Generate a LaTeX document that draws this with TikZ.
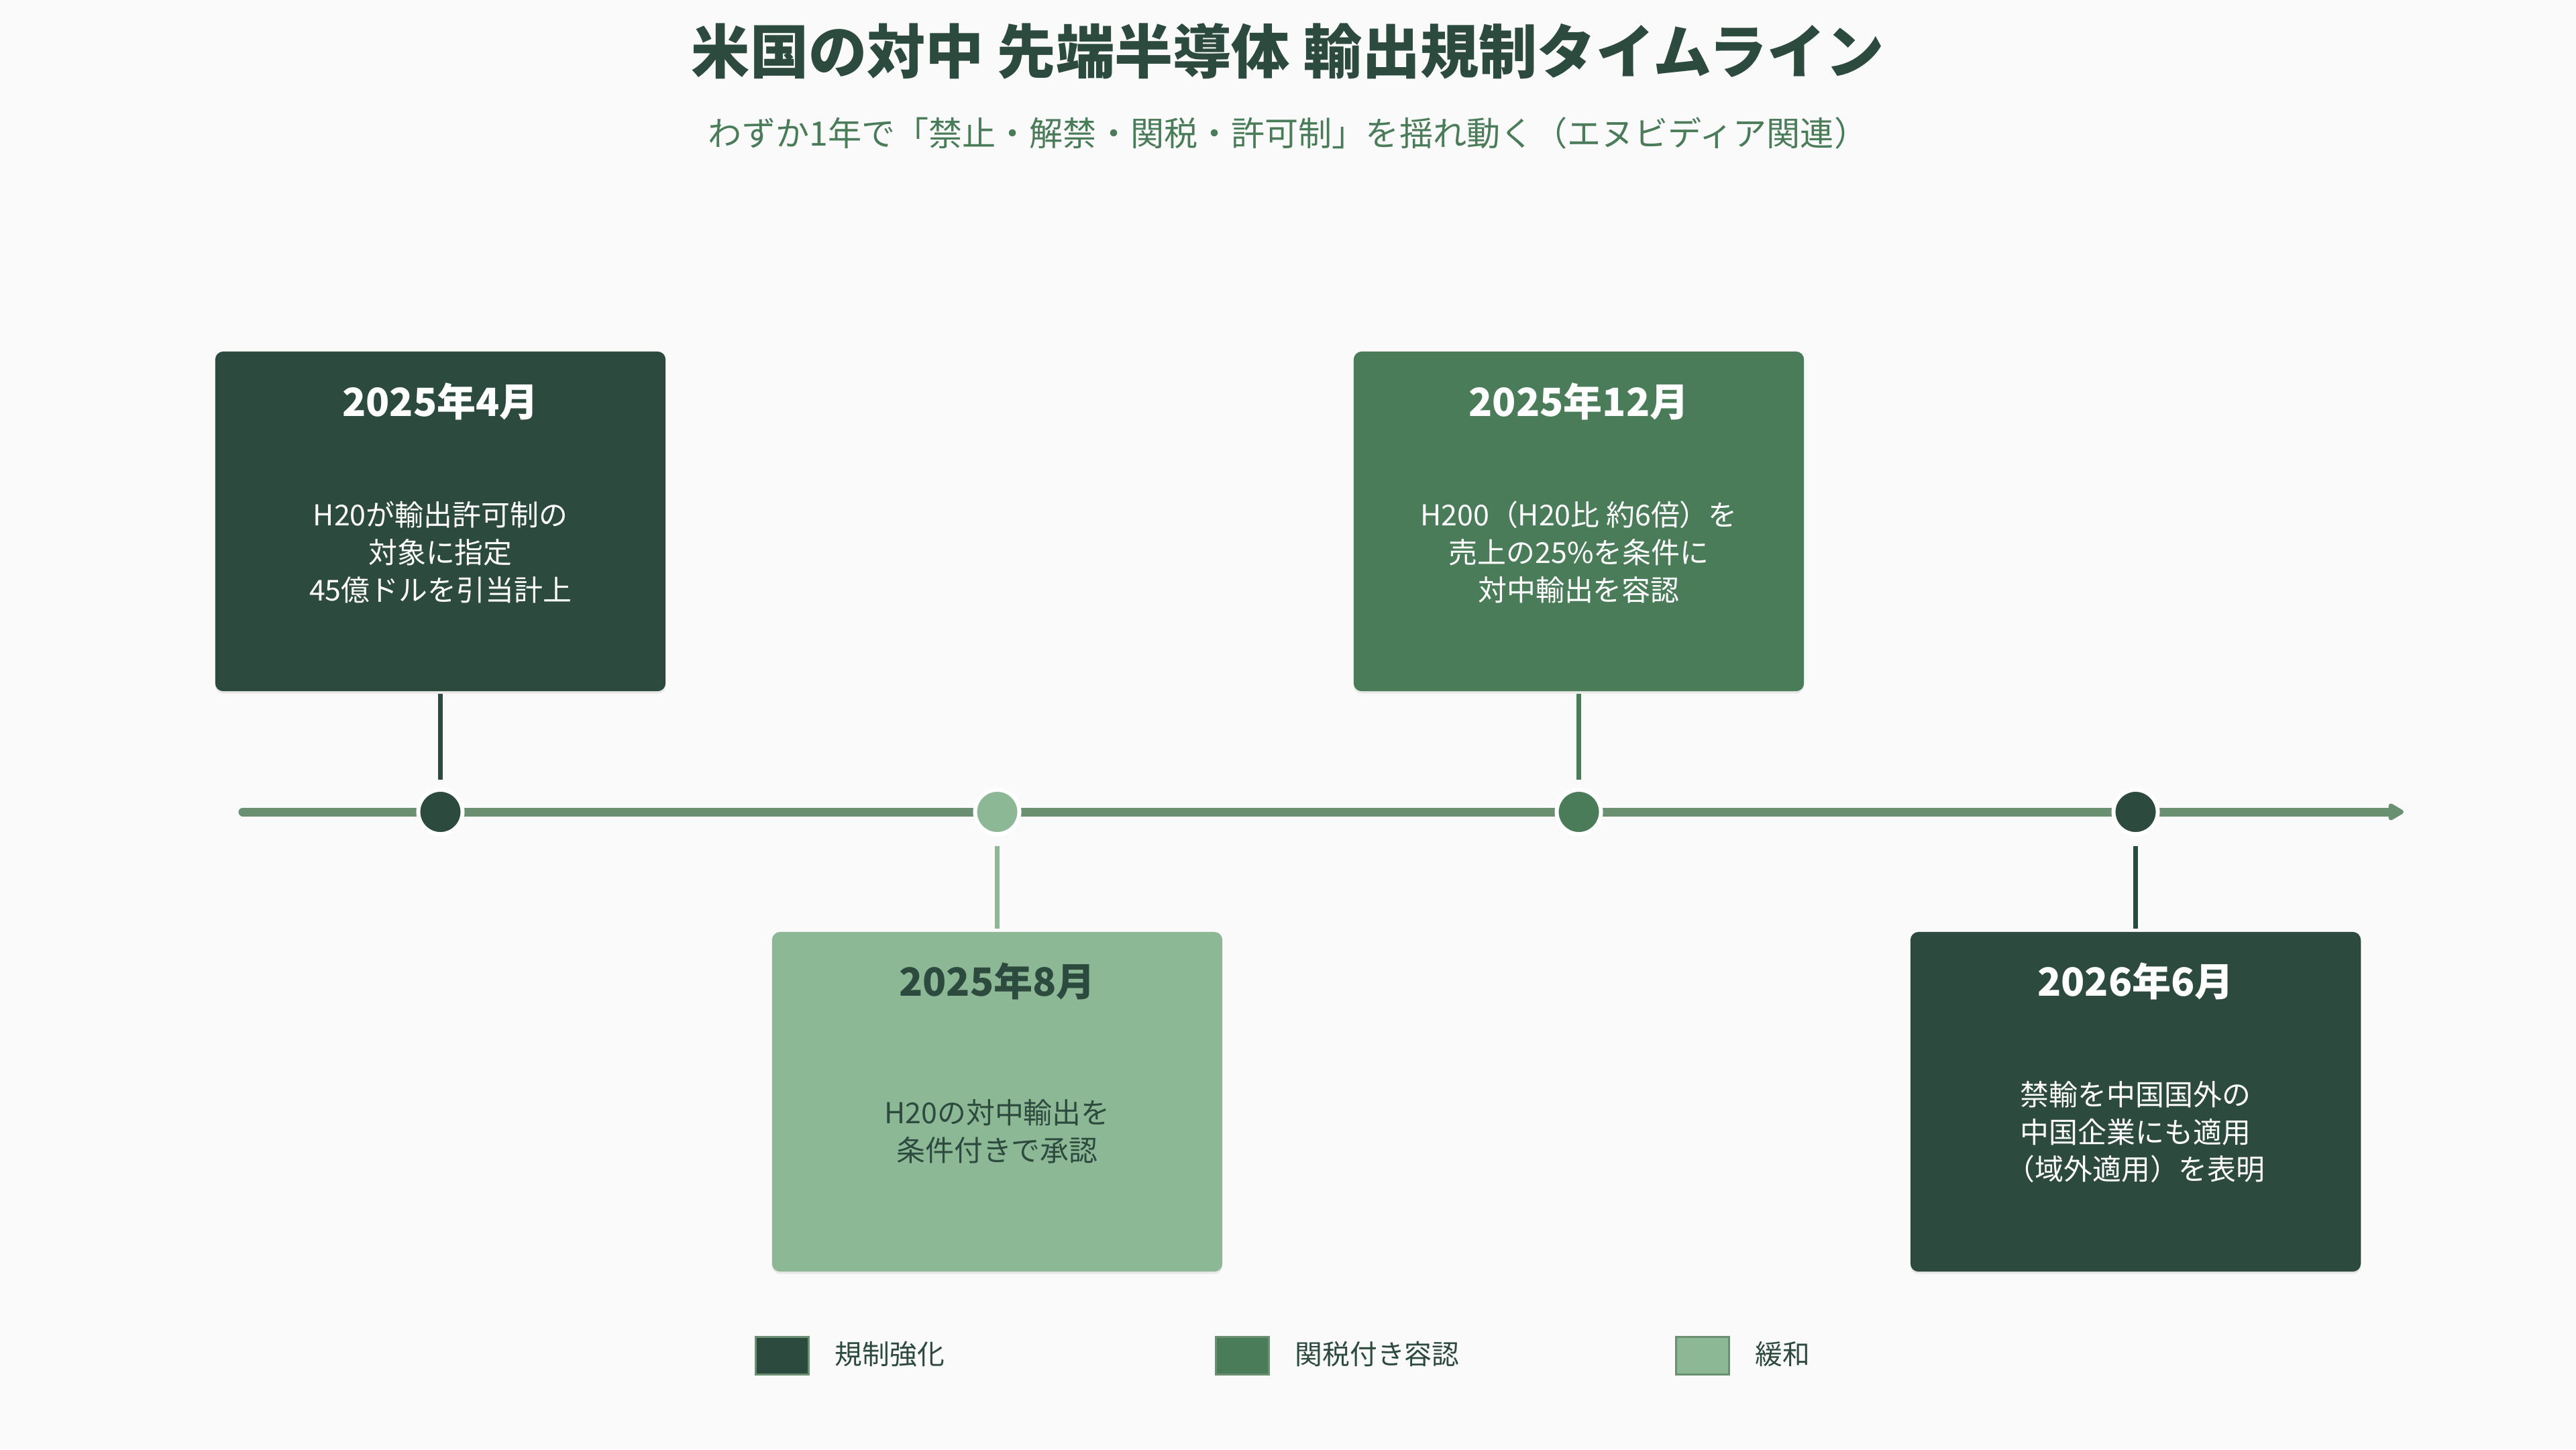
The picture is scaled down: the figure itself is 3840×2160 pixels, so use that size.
\documentclass[tikz,border=0pt]{standalone}
\usepackage{fontspec}
\setmainfont{Noto Sans CJK JP}
\usetikzlibrary{arrows.meta}
\definecolor{bgc}{HTML}{FAFAFA}
\definecolor{dkg}{HTML}{2D4A3E}
\definecolor{mdg}{HTML}{4A7C59}
\definecolor{ltg}{HTML}{8DB896}
\definecolor{lng}{HTML}{6B8F71}
\begin{document}
\begin{tikzpicture}[x=0.01cm,y=-0.01cm,
  evbox/.style={rectangle, rounded corners=0.12cm, minimum width=6.71cm, minimum height=5.06cm, inner sep=0, outer sep=0,
    preaction={fill=black, fill opacity=0.07, transform canvas={yshift=-0.035cm}}},
  datetxt/.style={font=\fontsize{16.5pt}{20pt}\selectfont\bfseries, inner sep=0},
  bodytxt/.style={font=\fontsize{12.2pt}{15.9pt}\selectfont, align=center, inner sep=0},
  tdot/.style={circle, minimum size=0.66cm, inner sep=0, outer sep=0, draw=white, line width=0.06cm},
  conn/.style={line width=0.07cm},
  legsq/.style={rectangle, minimum width=0.79cm, minimum height=0.56cm, draw=lng, line width=0.03cm, inner sep=0, outer sep=0},
  legtxt/.style={font=\fontsize{11.6pt}{14pt}\selectfont, text=dkg, anchor=west, inner sep=0},
]
\path[use as bounding box, fill=bgc] (0,0) rectangle (3840,2160);

% title
\node[font=\fontsize{24.8pt}{30pt}\selectfont\bfseries, text=dkg, inner sep=0] (title) at (1920,76) {米国の対中 先端半導体 輸出規制タイムライン};
\node[font=\fontsize{14.25pt}{17pt}\selectfont, text=mdg, inner sep=0] (subtitle) at (1920,198) {わずか1年で「禁止・解禁・関税・許可制」を揺れ動く（エヌビディア関連）};

% timeline
\coordinate (ts) at (362,1210);
\coordinate (te) at (3583,1210);
\draw[lng, line width=0.13cm, line cap=round, -{Triangle[length=0.26cm, width=0.28cm, round]}] (ts) -- (te);

% dots
\node[tdot, fill=dkg] (d1) at (656.5,1210) {};
\node[tdot, fill=ltg] (d2) at (1486.5,1210) {};
\node[tdot, fill=mdg] (d3) at (2353.5,1210) {};
\node[tdot, fill=dkg] (d4) at (3183.5,1210) {};

% boxes
\node[evbox, fill=dkg] (b1) at (656.5,777) {};
\node[evbox, fill=ltg] (b2) at (1486.5,1642) {};
\node[evbox, fill=mdg] (b3) at (2353.5,777) {};
\node[evbox, fill=dkg] (b4) at (3183.5,1642) {};

% dates
\node[datetxt, text=white] (t1) at (656.5,598) {2025年4月};
\node[datetxt, text=dkg] (t2) at (1486.5,1462) {2025年8月};
\node[datetxt, text=white] (t3) at (2353.5,598) {2025年12月};
\node[datetxt, text=white] (t4) at (3183.5,1462) {2026年6月};

% bodies
\node[bodytxt, text=white] (x1) at (656.5,823) {H20が輸出許可制の\\対象に指定\\45億ドルを引当計上};
\node[bodytxt, text=dkg] (x2) at (1486.5,1686) {H20の対中輸出を\\条件付きで承認};
\node[bodytxt, text=white] (x3) at (2353.5,823) {H200（H20比 約6倍）を\\売上の25\%を条件に\\対中輸出を容認};
\node[bodytxt, text=white] (x4) at (3183.5,1687) {禁輸を中国国外の\\中国企業にも適用\\（域外適用）を表明};

% connectors
\draw[conn, dkg] ([yshift=-0.04cm]b1.south) -- ([yshift=0.15cm]d1.north);
\draw[conn, ltg] ([yshift=-0.18cm]d2.south) -- ([yshift=0.05cm]b2.north);
\draw[conn, mdg] ([yshift=-0.04cm]b3.south) -- ([yshift=0.15cm]d3.north);
\draw[conn, dkg] ([yshift=-0.18cm]d4.south) -- ([yshift=0.05cm]b4.north);

% legend
\node[legsq, fill=dkg] (l1) at (1166,2020.5) {};
\node[legtxt] (lt1) at (1244,2018) {規制強化};
\node[legsq, fill=mdg] (l2) at (1852,2020.5) {};
\node[legtxt] (lt2) at (1930,2018) {関税付き容認};
\node[legsq, fill=ltg] (l3) at (2538,2020.5) {};
\node[legtxt] (lt3) at (2616,2018) {緩和};
\end{tikzpicture}
\end{document}
